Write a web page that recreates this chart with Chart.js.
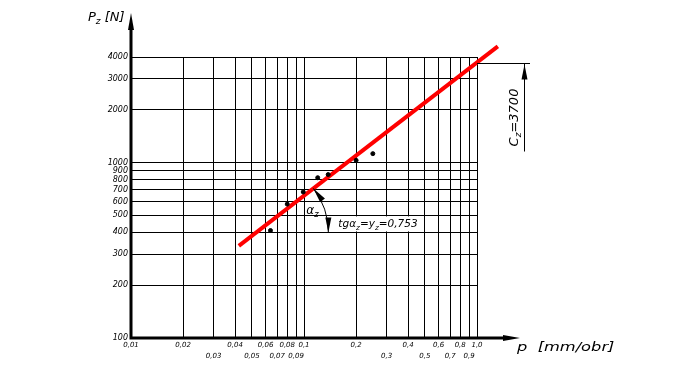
<!DOCTYPE html>
<html>
<head>
<meta charset="utf-8">
<script src="https://cdn.jsdelivr.net/npm/chart.js@4/dist/chart.umd.min.js"></script>
<style>
  html, body { margin: 0; padding: 0; background: #fff; }
  #wrap { width: 690px; height: 373px; }
</style>
</head>
<body>
<div id="wrap"><canvas id="chart" width="690" height="373"></canvas></div>
<script>
// feed p [mm/obr] - log grid and its labels (two staggered rows)
const xTicks = [0.01, 0.02, 0.03, 0.04, 0.05, 0.06, 0.07, 0.08, 0.09,
                0.1, 0.2, 0.3, 0.4, 0.5, 0.6, 0.7, 0.8, 0.9, 1.0];
const xTickLabels = ['0,01', '0,02', '0,03', '0,04', '0,05', '0,06', '0,07', '0,08', '0,09',
                     '0,1', '0,2', '0,3', '0,4', '0,5', '0,6', '0,7', '0,8', '0,9', '1,0'];
const xTickRow = [1, 1, 2, 1, 2, 1, 2, 1, 2, 1, 1, 2, 1, 2, 1, 2, 1, 2, 1];

// cutting force Pz [N] - log grid
const yTicks = [100, 200, 300, 400, 500, 600, 700, 800, 900, 1000, 2000, 3000, 4000];

// measured points
const measuredP  = [0.064, 0.080, 0.099, 0.120, 0.138, 0.200, 0.250];
const measuredPz = [410, 580, 680, 820, 855, 1030, 1125];

// fitted line (at both ends)
const fitP  = [0.042, 1.32];
const fitPz = [335, 4600];

const cz = 3700;
const czLabel = '=3700';
const yzLabel = '=0,753';

const FONT = '"DejaVu Sans", sans-serif';

function arrowHead(ctx, tx, ty, dx, dy, len, half) {
  const l = Math.hypot(dx, dy); dx /= l; dy /= l;
  const bx = tx - dx * len, by = ty - dy * len;
  ctx.beginPath();
  ctx.moveTo(tx, ty);
  ctx.lineTo(bx - dy * half, by + dx * half);
  ctx.lineTo(bx + dy * half, by - dx * half);
  ctx.closePath();
  ctx.fill();
}

// draws text parts with subscripts, left aligned at x, baseline y
function richText(ctx, parts, x, y, size) {
  let cx = x;
  parts.forEach(p => {
    const s = p.sub ? size * 0.7 : size;
    ctx.font = 'italic ' + s + 'px ' + FONT;
    ctx.fillText(p.t, cx, p.sub ? y + size * 0.25 : y);
    cx += ctx.measureText(p.t).width;
  });
  return cx - x;
}
function richWidth(ctx, parts, size) {
  let w = 0;
  parts.forEach(p => {
    ctx.font = 'italic ' + (p.sub ? size * 0.7 : size) + 'px ' + FONT;
    w += ctx.measureText(p.t).width;
  });
  return w;
}

const decorations = {
  id: 'decorations',
  afterDraw(chart) {
    const { ctx, chartArea: a, scales: { x, y } } = chart;
    ctx.save();
    ctx.strokeStyle = '#000';
    ctx.fillStyle = '#000';
    ctx.textBaseline = 'alphabetic';

    // thick axes with arrows
    ctx.lineWidth = 3;
    ctx.beginPath();
    ctx.moveTo(a.left, a.bottom + 1.5);
    ctx.lineTo(a.left, a.top - 30);
    ctx.moveTo(a.left - 1.5, a.bottom);
    ctx.lineTo(a.right + 30, a.bottom);
    ctx.stroke();
    arrowHead(ctx, a.left, a.top - 44, 0, -1, 17, 3);
    arrowHead(ctx, a.right + 43, a.bottom, 1, 0, 17, 3);

    // axis titles
    ctx.font = 'italic 13px ' + FONT;
    richText(ctx, [{ t: 'P' }, { t: 'z', sub: true }, { t: ' [N]' }], 88, 21, 13);
    ctx.save();
    ctx.translate(a.right + 40, a.bottom + 13);
    ctx.scale(1.25, 1);
    ctx.font = 'italic 13px ' + FONT;
    ctx.fillText('p  [mm/obr]', 0, 0);
    ctx.restore();

    // Cz marker at p = 1.0
    const x1 = x.getPixelForValue(1.0);
    const yc = Math.round(y.getPixelForValue(cz)) + 0.5;
    ctx.lineWidth = 1;
    ctx.beginPath();
    ctx.moveTo(x1, yc);
    ctx.lineTo(x1 + 53, yc);
    ctx.moveTo(x1 + 47.5, yc);
    ctx.lineTo(x1 + 47.5, yc + 88);
    ctx.stroke();
    arrowHead(ctx, x1 + 47.5, yc + 1, 0, -1, 15, 3);
    ctx.save();
    ctx.translate(x1 + 41, yc + 54);
    ctx.rotate(-Math.PI / 2);
    const czParts = [{ t: 'C' }, { t: 'z', sub: true }, { t: czLabel }];
    const cw = richWidth(ctx, czParts, 13);
    richText(ctx, czParts, -cw / 2, 0, 13);
    ctx.restore();

    // angle alpha_z between fitted line and the 400 N gridline
    const px1 = x.getPixelForValue(fitP[0]), py1 = y.getPixelForValue(fitPz[0]);
    const px2 = x.getPixelForValue(fitP[1]), py2 = y.getPixelForValue(fitPz[1]);
    const cy = y.getPixelForValue(400);
    const cxp = px1 + (cy - py1) / (py2 - py1) * (px2 - px1);
    const ang = Math.atan2(py1 - py2, px2 - px1);
    const r = 72;
    ctx.lineWidth = 1;
    ctx.beginPath();
    ctx.arc(cxp, cy, r, -ang, 0);
    ctx.stroke();
    arrowHead(ctx, cxp + r * Math.cos(ang), cy - r * Math.sin(ang),
              -Math.sin(ang), -Math.cos(ang), 15, 3);
    arrowHead(ctx, cxp + r, cy, 0, 1, 15, 3);
    richText(ctx, [{ t: 'α' }, { t: 'z', sub: true }], cxp + r - 22, cy - 18, 12);

    // tg(alpha_z) = y_z label on white
    const tParts = [{ t: 'tgα' }, { t: 'z', sub: true }, { t: '=y' }, { t: 'z', sub: true }, { t: yzLabel }];
    const tx = cxp + r + 10;
    const tw = richWidth(ctx, tParts, 10.5);
    const y500 = y.getPixelForValue(500);
    ctx.fillStyle = '#fff';
    ctx.fillRect(tx - 1, y500 + 1, tw + 3, cy - y500 - 2);
    ctx.fillStyle = '#000';
    richText(ctx, tParts, tx, cy - 5, 10.5);

    ctx.restore();
  }
};

const pointData = measuredP.map((p, i) => ({ x: p, y: measuredPz[i] }));
const fitData = fitP.map((p, i) => ({ x: p, y: fitPz[i] }));

new Chart(document.getElementById('chart'), {
  type: 'scatter',
  data: {
    datasets: [
      {
        label: 'measured',
        data: pointData,
        backgroundColor: '#000',
        borderColor: '#000',
        pointRadius: 2,
        pointHoverRadius: 2
      },
      {
        label: 'fit',
        data: fitData,
        showLine: true,
        borderColor: '#ff0000',
        borderWidth: 4,
        pointRadius: 0,
        clip: false
      }
    ]
  },
  options: {
    responsive: false,
    devicePixelRatio: 1,
    animation: false,
    events: [],
    layout: { padding: { left: 0, top: 57, right: 213, bottom: 0 } },
    plugins: { legend: { display: false }, tooltip: { enabled: false } },
    scales: {
      x: {
        type: 'logarithmic',
        min: 0.01,
        max: 1.0,
        afterBuildTicks: axis => { axis.ticks = xTicks.map(v => ({ value: v })); },
        afterFit: axis => { axis.height = 35; },
        border: { display: false },
        grid: { color: '#000', lineWidth: 1, drawTicks: false },
        ticks: {
          autoSkip: false,
          maxRotation: 0,
          padding: 2,
          color: '#000',
          font: { family: FONT, size: 7, style: 'italic', lineHeight: 1.5 },
          callback: (v, i) => xTickRow[i] === 2 ? ['', xTickLabels[i]] : xTickLabels[i]
        }
      },
      y: {
        type: 'logarithmic',
        min: 100,
        max: 4000,
        afterBuildTicks: axis => { axis.ticks = yTicks.map(v => ({ value: v })); },
        afterFit: axis => { axis.width = 131; },
        border: { display: false },
        grid: { color: '#000', lineWidth: 1, drawTicks: false },
        ticks: {
          autoSkip: false,
          padding: 3,
          color: '#000',
          font: { family: FONT, size: 8, style: 'italic' },
          callback: (v, i) => String(yTicks[i])
        }
      }
    }
  },
  plugins: [decorations]
});
</script>
</body>
</html>
